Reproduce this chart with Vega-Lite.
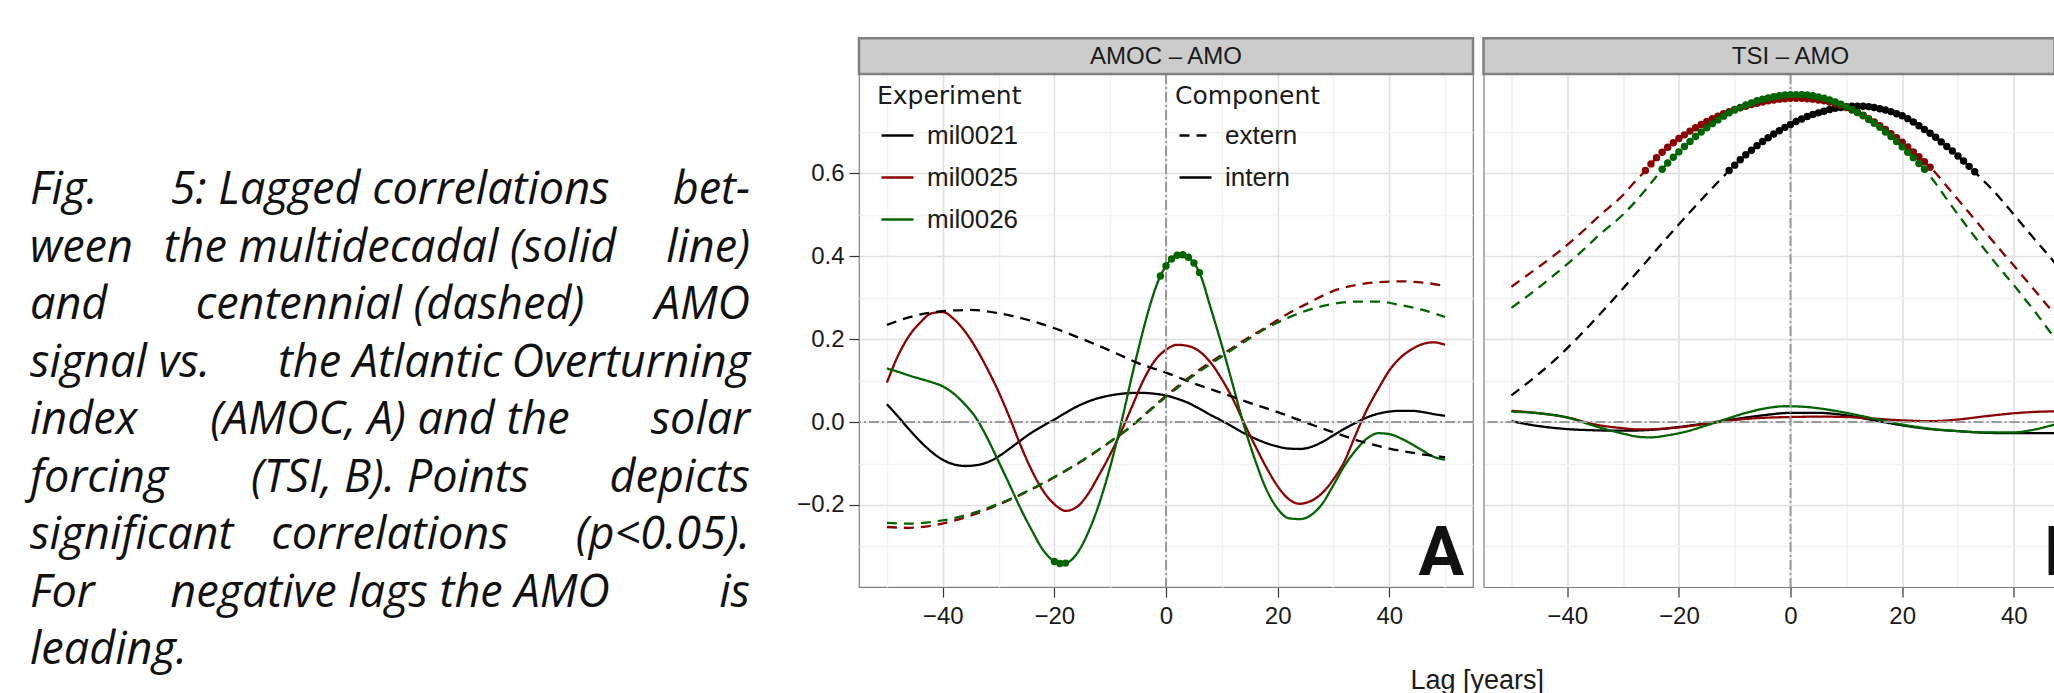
{
"$schema":"https://vega.github.io/schema/vega-lite/v6.json",
"background":"white",
"padding":{"left":30,"top":36,"right":0,"bottom":0},
"config":{
  "font":"Liberation Sans",
  "view":{"stroke":null},
  "axis":{"labelFont":"Liberation Sans","labelFontSize":24,"labelColor":"#1a1a1a","tickColor":"#333333","tickWidth":1.2,"tickSize":10,"gridWidth":1.6,"labelOverlap":false,"labelFlush":false,"labelBound":false,"domainColor":"#7f7f7f","domainWidth":1.2}
},
"datasets":{"curves":[
{"p":"A","e":"mil0021","c":"intern","lag":-50,"r":0.043},{"p":"A","e":"mil0021","c":"intern","lag":-48,"r":0.013},{"p":"A","e":"mil0021","c":"intern","lag":-46,"r":-0.018},{"p":"A","e":"mil0021","c":"intern","lag":-44,"r":-0.047},{"p":"A","e":"mil0021","c":"intern","lag":-42,"r":-0.072},{"p":"A","e":"mil0021","c":"intern","lag":-40,"r":-0.091},{"p":"A","e":"mil0021","c":"intern","lag":-38,"r":-0.102},{"p":"A","e":"mil0021","c":"intern","lag":-36,"r":-0.106},{"p":"A","e":"mil0021","c":"intern","lag":-34,"r":-0.104},{"p":"A","e":"mil0021","c":"intern","lag":-32,"r":-0.097},{"p":"A","e":"mil0021","c":"intern","lag":-30,"r":-0.083},{"p":"A","e":"mil0021","c":"intern","lag":-28,"r":-0.064},{"p":"A","e":"mil0021","c":"intern","lag":-26,"r":-0.044},{"p":"A","e":"mil0021","c":"intern","lag":-24,"r":-0.025},{"p":"A","e":"mil0021","c":"intern","lag":-22,"r":-0.009},{"p":"A","e":"mil0021","c":"intern","lag":-20,"r":0.006},{"p":"A","e":"mil0021","c":"intern","lag":-18,"r":0.022},{"p":"A","e":"mil0021","c":"intern","lag":-16,"r":0.037},{"p":"A","e":"mil0021","c":"intern","lag":-14,"r":0.049},{"p":"A","e":"mil0021","c":"intern","lag":-12,"r":0.058},{"p":"A","e":"mil0021","c":"intern","lag":-10,"r":0.064},{"p":"A","e":"mil0021","c":"intern","lag":-8,"r":0.068},{"p":"A","e":"mil0021","c":"intern","lag":-6,"r":0.070},{"p":"A","e":"mil0021","c":"intern","lag":-4,"r":0.070},{"p":"A","e":"mil0021","c":"intern","lag":-2,"r":0.068},{"p":"A","e":"mil0021","c":"intern","lag":0,"r":0.064},{"p":"A","e":"mil0021","c":"intern","lag":2,"r":0.056},{"p":"A","e":"mil0021","c":"intern","lag":4,"r":0.046},{"p":"A","e":"mil0021","c":"intern","lag":6,"r":0.032},{"p":"A","e":"mil0021","c":"intern","lag":8,"r":0.017},{"p":"A","e":"mil0021","c":"intern","lag":10,"r":0.003},{"p":"A","e":"mil0021","c":"intern","lag":12,"r":-0.012},{"p":"A","e":"mil0021","c":"intern","lag":14,"r":-0.027},{"p":"A","e":"mil0021","c":"intern","lag":16,"r":-0.040},{"p":"A","e":"mil0021","c":"intern","lag":18,"r":-0.051},{"p":"A","e":"mil0021","c":"intern","lag":20,"r":-0.059},{"p":"A","e":"mil0021","c":"intern","lag":22,"r":-0.064},{"p":"A","e":"mil0021","c":"intern","lag":24,"r":-0.065},{"p":"A","e":"mil0021","c":"intern","lag":26,"r":-0.060},{"p":"A","e":"mil0021","c":"intern","lag":28,"r":-0.048},{"p":"A","e":"mil0021","c":"intern","lag":30,"r":-0.032},{"p":"A","e":"mil0021","c":"intern","lag":32,"r":-0.016},{"p":"A","e":"mil0021","c":"intern","lag":34,"r":-0.002},{"p":"A","e":"mil0021","c":"intern","lag":36,"r":0.011},{"p":"A","e":"mil0021","c":"intern","lag":38,"r":0.020},{"p":"A","e":"mil0021","c":"intern","lag":40,"r":0.025},{"p":"A","e":"mil0021","c":"intern","lag":42,"r":0.027},{"p":"A","e":"mil0021","c":"intern","lag":44,"r":0.027},{"p":"A","e":"mil0021","c":"intern","lag":46,"r":0.024},{"p":"A","e":"mil0021","c":"intern","lag":48,"r":0.019},{"p":"A","e":"mil0021","c":"intern","lag":50,"r":0.015},
{"p":"A","e":"mil0025","c":"intern","lag":-50,"r":0.095},{"p":"A","e":"mil0025","c":"intern","lag":-48,"r":0.160},{"p":"A","e":"mil0025","c":"intern","lag":-46,"r":0.208},{"p":"A","e":"mil0025","c":"intern","lag":-44,"r":0.240},{"p":"A","e":"mil0025","c":"intern","lag":-42,"r":0.262},{"p":"A","e":"mil0025","c":"intern","lag":-40,"r":0.265},{"p":"A","e":"mil0025","c":"intern","lag":-38,"r":0.248},{"p":"A","e":"mil0025","c":"intern","lag":-36,"r":0.218},{"p":"A","e":"mil0025","c":"intern","lag":-34,"r":0.177},{"p":"A","e":"mil0025","c":"intern","lag":-32,"r":0.128},{"p":"A","e":"mil0025","c":"intern","lag":-30,"r":0.073},{"p":"A","e":"mil0025","c":"intern","lag":-28,"r":0.010},{"p":"A","e":"mil0025","c":"intern","lag":-26,"r":-0.058},{"p":"A","e":"mil0025","c":"intern","lag":-24,"r":-0.118},{"p":"A","e":"mil0025","c":"intern","lag":-22,"r":-0.166},{"p":"A","e":"mil0025","c":"intern","lag":-20,"r":-0.198},{"p":"A","e":"mil0025","c":"intern","lag":-18,"r":-0.214},{"p":"A","e":"mil0025","c":"intern","lag":-16,"r":-0.205},{"p":"A","e":"mil0025","c":"intern","lag":-14,"r":-0.174},{"p":"A","e":"mil0025","c":"intern","lag":-12,"r":-0.128},{"p":"A","e":"mil0025","c":"intern","lag":-10,"r":-0.078},{"p":"A","e":"mil0025","c":"intern","lag":-8,"r":-0.022},{"p":"A","e":"mil0025","c":"intern","lag":-6,"r":0.040},{"p":"A","e":"mil0025","c":"intern","lag":-4,"r":0.102},{"p":"A","e":"mil0025","c":"intern","lag":-2,"r":0.148},{"p":"A","e":"mil0025","c":"intern","lag":0,"r":0.174},{"p":"A","e":"mil0025","c":"intern","lag":2,"r":0.186},{"p":"A","e":"mil0025","c":"intern","lag":4,"r":0.183},{"p":"A","e":"mil0025","c":"intern","lag":6,"r":0.170},{"p":"A","e":"mil0025","c":"intern","lag":8,"r":0.143},{"p":"A","e":"mil0025","c":"intern","lag":10,"r":0.103},{"p":"A","e":"mil0025","c":"intern","lag":12,"r":0.055},{"p":"A","e":"mil0025","c":"intern","lag":14,"r":-0.003},{"p":"A","e":"mil0025","c":"intern","lag":16,"r":-0.058},{"p":"A","e":"mil0025","c":"intern","lag":18,"r":-0.110},{"p":"A","e":"mil0025","c":"intern","lag":20,"r":-0.155},{"p":"A","e":"mil0025","c":"intern","lag":22,"r":-0.186},{"p":"A","e":"mil0025","c":"intern","lag":24,"r":-0.197},{"p":"A","e":"mil0025","c":"intern","lag":26,"r":-0.190},{"p":"A","e":"mil0025","c":"intern","lag":28,"r":-0.171},{"p":"A","e":"mil0025","c":"intern","lag":30,"r":-0.138},{"p":"A","e":"mil0025","c":"intern","lag":32,"r":-0.094},{"p":"A","e":"mil0025","c":"intern","lag":34,"r":-0.030},{"p":"A","e":"mil0025","c":"intern","lag":36,"r":0.030},{"p":"A","e":"mil0025","c":"intern","lag":38,"r":0.079},{"p":"A","e":"mil0025","c":"intern","lag":40,"r":0.124},{"p":"A","e":"mil0025","c":"intern","lag":42,"r":0.155},{"p":"A","e":"mil0025","c":"intern","lag":44,"r":0.175},{"p":"A","e":"mil0025","c":"intern","lag":46,"r":0.188},{"p":"A","e":"mil0025","c":"intern","lag":48,"r":0.192},{"p":"A","e":"mil0025","c":"intern","lag":50,"r":0.186},
{"p":"A","e":"mil0026","c":"intern","lag":-50,"r":0.129},{"p":"A","e":"mil0026","c":"intern","lag":-48,"r":0.121},{"p":"A","e":"mil0026","c":"intern","lag":-46,"r":0.112},{"p":"A","e":"mil0026","c":"intern","lag":-44,"r":0.104},{"p":"A","e":"mil0026","c":"intern","lag":-42,"r":0.096},{"p":"A","e":"mil0026","c":"intern","lag":-40,"r":0.086},{"p":"A","e":"mil0026","c":"intern","lag":-38,"r":0.068},{"p":"A","e":"mil0026","c":"intern","lag":-36,"r":0.042},{"p":"A","e":"mil0026","c":"intern","lag":-34,"r":0.009},{"p":"A","e":"mil0026","c":"intern","lag":-32,"r":-0.039},{"p":"A","e":"mil0026","c":"intern","lag":-30,"r":-0.095},{"p":"A","e":"mil0026","c":"intern","lag":-28,"r":-0.152},{"p":"A","e":"mil0026","c":"intern","lag":-26,"r":-0.210},{"p":"A","e":"mil0026","c":"intern","lag":-24,"r":-0.262},{"p":"A","e":"mil0026","c":"intern","lag":-22,"r":-0.309},{"p":"A","e":"mil0026","c":"intern","lag":-21,"r":-0.325},{"p":"A","e":"mil0026","c":"intern","lag":-20,"r":-0.336,"sig":1},{"p":"A","e":"mil0026","c":"intern","lag":-19,"r":-0.341,"sig":1},{"p":"A","e":"mil0026","c":"intern","lag":-18,"r":-0.340,"sig":1},{"p":"A","e":"mil0026","c":"intern","lag":-17,"r":-0.333},{"p":"A","e":"mil0026","c":"intern","lag":-16,"r":-0.318},{"p":"A","e":"mil0026","c":"intern","lag":-14,"r":-0.268},{"p":"A","e":"mil0026","c":"intern","lag":-12,"r":-0.198},{"p":"A","e":"mil0026","c":"intern","lag":-10,"r":-0.108},{"p":"A","e":"mil0026","c":"intern","lag":-8,"r":-0.001},{"p":"A","e":"mil0026","c":"intern","lag":-6,"r":0.117},{"p":"A","e":"mil0026","c":"intern","lag":-4,"r":0.226},{"p":"A","e":"mil0026","c":"intern","lag":-3,"r":0.275},{"p":"A","e":"mil0026","c":"intern","lag":-2,"r":0.318},{"p":"A","e":"mil0026","c":"intern","lag":-1,"r":0.352,"sig":1},{"p":"A","e":"mil0026","c":"intern","lag":0,"r":0.376,"sig":1},{"p":"A","e":"mil0026","c":"intern","lag":1,"r":0.393,"sig":1},{"p":"A","e":"mil0026","c":"intern","lag":2,"r":0.402,"sig":1},{"p":"A","e":"mil0026","c":"intern","lag":3,"r":0.403,"sig":1},{"p":"A","e":"mil0026","c":"intern","lag":4,"r":0.397,"sig":1},{"p":"A","e":"mil0026","c":"intern","lag":5,"r":0.383,"sig":1},{"p":"A","e":"mil0026","c":"intern","lag":6,"r":0.360,"sig":1},{"p":"A","e":"mil0026","c":"intern","lag":8,"r":0.275},{"p":"A","e":"mil0026","c":"intern","lag":10,"r":0.185},{"p":"A","e":"mil0026","c":"intern","lag":12,"r":0.088},{"p":"A","e":"mil0026","c":"intern","lag":14,"r":-0.010},{"p":"A","e":"mil0026","c":"intern","lag":16,"r":-0.093},{"p":"A","e":"mil0026","c":"intern","lag":18,"r":-0.163},{"p":"A","e":"mil0026","c":"intern","lag":20,"r":-0.209},{"p":"A","e":"mil0026","c":"intern","lag":22,"r":-0.232},{"p":"A","e":"mil0026","c":"intern","lag":24,"r":-0.234},{"p":"A","e":"mil0026","c":"intern","lag":26,"r":-0.224},{"p":"A","e":"mil0026","c":"intern","lag":28,"r":-0.197},{"p":"A","e":"mil0026","c":"intern","lag":30,"r":-0.152},{"p":"A","e":"mil0026","c":"intern","lag":32,"r":-0.105},{"p":"A","e":"mil0026","c":"intern","lag":34,"r":-0.068},{"p":"A","e":"mil0026","c":"intern","lag":36,"r":-0.040},{"p":"A","e":"mil0026","c":"intern","lag":38,"r":-0.027},{"p":"A","e":"mil0026","c":"intern","lag":40,"r":-0.029},{"p":"A","e":"mil0026","c":"intern","lag":42,"r":-0.039},{"p":"A","e":"mil0026","c":"intern","lag":44,"r":-0.053},{"p":"A","e":"mil0026","c":"intern","lag":46,"r":-0.069},{"p":"A","e":"mil0026","c":"intern","lag":48,"r":-0.084},{"p":"A","e":"mil0026","c":"intern","lag":50,"r":-0.091},
{"p":"A","e":"mil0021","c":"extern","lag":-50,"r":0.234},{"p":"A","e":"mil0021","c":"extern","lag":-45,"r":0.256},{"p":"A","e":"mil0021","c":"extern","lag":-40,"r":0.267},{"p":"A","e":"mil0021","c":"extern","lag":-35,"r":0.270},{"p":"A","e":"mil0021","c":"extern","lag":-30,"r":0.262},{"p":"A","e":"mil0021","c":"extern","lag":-25,"r":0.247},{"p":"A","e":"mil0021","c":"extern","lag":-20,"r":0.226},{"p":"A","e":"mil0021","c":"extern","lag":-15,"r":0.200},{"p":"A","e":"mil0021","c":"extern","lag":-10,"r":0.172},{"p":"A","e":"mil0021","c":"extern","lag":-5,"r":0.142},{"p":"A","e":"mil0021","c":"extern","lag":0,"r":0.119},{"p":"A","e":"mil0021","c":"extern","lag":5,"r":0.093},{"p":"A","e":"mil0021","c":"extern","lag":10,"r":0.070},{"p":"A","e":"mil0021","c":"extern","lag":15,"r":0.046},{"p":"A","e":"mil0021","c":"extern","lag":20,"r":0.024},{"p":"A","e":"mil0021","c":"extern","lag":25,"r":-0.001},{"p":"A","e":"mil0021","c":"extern","lag":30,"r":-0.025},{"p":"A","e":"mil0021","c":"extern","lag":35,"r":-0.047},{"p":"A","e":"mil0021","c":"extern","lag":40,"r":-0.064},{"p":"A","e":"mil0021","c":"extern","lag":45,"r":-0.076},{"p":"A","e":"mil0021","c":"extern","lag":50,"r":-0.085},
{"p":"A","e":"mil0025","c":"extern","lag":-50,"r":-0.253},{"p":"A","e":"mil0025","c":"extern","lag":-46,"r":-0.255},{"p":"A","e":"mil0025","c":"extern","lag":-42,"r":-0.250},{"p":"A","e":"mil0025","c":"extern","lag":-38,"r":-0.238},{"p":"A","e":"mil0025","c":"extern","lag":-34,"r":-0.221},{"p":"A","e":"mil0025","c":"extern","lag":-30,"r":-0.199},{"p":"A","e":"mil0025","c":"extern","lag":-26,"r":-0.175},{"p":"A","e":"mil0025","c":"extern","lag":-22,"r":-0.148},{"p":"A","e":"mil0025","c":"extern","lag":-18,"r":-0.118},{"p":"A","e":"mil0025","c":"extern","lag":-14,"r":-0.085},{"p":"A","e":"mil0025","c":"extern","lag":-10,"r":-0.048},{"p":"A","e":"mil0025","c":"extern","lag":-6,"r":-0.008},{"p":"A","e":"mil0025","c":"extern","lag":-2,"r":0.040},{"p":"A","e":"mil0025","c":"extern","lag":2,"r":0.085},{"p":"A","e":"mil0025","c":"extern","lag":6,"r":0.126},{"p":"A","e":"mil0025","c":"extern","lag":10,"r":0.162},{"p":"A","e":"mil0025","c":"extern","lag":14,"r":0.197},{"p":"A","e":"mil0025","c":"extern","lag":18,"r":0.229},{"p":"A","e":"mil0025","c":"extern","lag":22,"r":0.262},{"p":"A","e":"mil0025","c":"extern","lag":26,"r":0.290},{"p":"A","e":"mil0025","c":"extern","lag":30,"r":0.316},{"p":"A","e":"mil0025","c":"extern","lag":34,"r":0.330},{"p":"A","e":"mil0025","c":"extern","lag":38,"r":0.337},{"p":"A","e":"mil0025","c":"extern","lag":42,"r":0.339},{"p":"A","e":"mil0025","c":"extern","lag":46,"r":0.336},{"p":"A","e":"mil0025","c":"extern","lag":50,"r":0.328},
{"p":"A","e":"mil0026","c":"extern","lag":-50,"r":-0.243},{"p":"A","e":"mil0026","c":"extern","lag":-46,"r":-0.245},{"p":"A","e":"mil0026","c":"extern","lag":-42,"r":-0.241},{"p":"A","e":"mil0026","c":"extern","lag":-38,"r":-0.232},{"p":"A","e":"mil0026","c":"extern","lag":-34,"r":-0.217},{"p":"A","e":"mil0026","c":"extern","lag":-30,"r":-0.197},{"p":"A","e":"mil0026","c":"extern","lag":-26,"r":-0.174},{"p":"A","e":"mil0026","c":"extern","lag":-22,"r":-0.147},{"p":"A","e":"mil0026","c":"extern","lag":-18,"r":-0.117},{"p":"A","e":"mil0026","c":"extern","lag":-14,"r":-0.084},{"p":"A","e":"mil0026","c":"extern","lag":-10,"r":-0.047},{"p":"A","e":"mil0026","c":"extern","lag":-6,"r":-0.008},{"p":"A","e":"mil0026","c":"extern","lag":-2,"r":0.038},{"p":"A","e":"mil0026","c":"extern","lag":2,"r":0.082},{"p":"A","e":"mil0026","c":"extern","lag":6,"r":0.122},{"p":"A","e":"mil0026","c":"extern","lag":10,"r":0.158},{"p":"A","e":"mil0026","c":"extern","lag":14,"r":0.193},{"p":"A","e":"mil0026","c":"extern","lag":18,"r":0.226},{"p":"A","e":"mil0026","c":"extern","lag":22,"r":0.252},{"p":"A","e":"mil0026","c":"extern","lag":26,"r":0.272},{"p":"A","e":"mil0026","c":"extern","lag":30,"r":0.285},{"p":"A","e":"mil0026","c":"extern","lag":34,"r":0.290},{"p":"A","e":"mil0026","c":"extern","lag":38,"r":0.290},{"p":"A","e":"mil0026","c":"extern","lag":42,"r":0.282},{"p":"A","e":"mil0026","c":"extern","lag":46,"r":0.270},{"p":"A","e":"mil0026","c":"extern","lag":50,"r":0.253},
{"p":"B","e":"mil0021","c":"extern","lag":-50,"r":0.064},{"p":"B","e":"mil0021","c":"extern","lag":-46,"r":0.106},{"p":"B","e":"mil0021","c":"extern","lag":-42,"r":0.152},{"p":"B","e":"mil0021","c":"extern","lag":-38,"r":0.205},{"p":"B","e":"mil0021","c":"extern","lag":-34,"r":0.262},{"p":"B","e":"mil0021","c":"extern","lag":-30,"r":0.322},{"p":"B","e":"mil0021","c":"extern","lag":-26,"r":0.384},{"p":"B","e":"mil0021","c":"extern","lag":-22,"r":0.446},{"p":"B","e":"mil0021","c":"extern","lag":-18,"r":0.506},{"p":"B","e":"mil0021","c":"extern","lag":-14,"r":0.564},{"p":"B","e":"mil0021","c":"extern","lag":-12,"r":0.592},
{"p":"B","e":"mil0021","c":"extern","lag":-11,"r":0.606,"sig":1},{"p":"B","e":"mil0021","c":"extern","lag":-10,"r":0.619,"sig":1},{"p":"B","e":"mil0021","c":"extern","lag":-9,"r":0.632,"sig":1},{"p":"B","e":"mil0021","c":"extern","lag":-8,"r":0.644,"sig":1},{"p":"B","e":"mil0021","c":"extern","lag":-7,"r":0.655,"sig":1},{"p":"B","e":"mil0021","c":"extern","lag":-6,"r":0.666,"sig":1},{"p":"B","e":"mil0021","c":"extern","lag":-5,"r":0.676,"sig":1},{"p":"B","e":"mil0021","c":"extern","lag":-4,"r":0.685,"sig":1},{"p":"B","e":"mil0021","c":"extern","lag":-3,"r":0.694,"sig":1},{"p":"B","e":"mil0021","c":"extern","lag":-2,"r":0.702,"sig":1},{"p":"B","e":"mil0021","c":"extern","lag":-1,"r":0.710,"sig":1},{"p":"B","e":"mil0021","c":"extern","lag":0,"r":0.717,"sig":1},{"p":"B","e":"mil0021","c":"extern","lag":1,"r":0.724,"sig":1},{"p":"B","e":"mil0021","c":"extern","lag":2,"r":0.730,"sig":1},{"p":"B","e":"mil0021","c":"extern","lag":3,"r":0.736,"sig":1},{"p":"B","e":"mil0021","c":"extern","lag":4,"r":0.741,"sig":1},{"p":"B","e":"mil0021","c":"extern","lag":5,"r":0.745,"sig":1},{"p":"B","e":"mil0021","c":"extern","lag":6,"r":0.749,"sig":1},{"p":"B","e":"mil0021","c":"extern","lag":7,"r":0.753,"sig":1},{"p":"B","e":"mil0021","c":"extern","lag":8,"r":0.756,"sig":1},{"p":"B","e":"mil0021","c":"extern","lag":9,"r":0.758,"sig":1},{"p":"B","e":"mil0021","c":"extern","lag":10,"r":0.760,"sig":1},{"p":"B","e":"mil0021","c":"extern","lag":11,"r":0.761,"sig":1},{"p":"B","e":"mil0021","c":"extern","lag":12,"r":0.761,"sig":1},{"p":"B","e":"mil0021","c":"extern","lag":13,"r":0.761,"sig":1},{"p":"B","e":"mil0021","c":"extern","lag":14,"r":0.760,"sig":1},{"p":"B","e":"mil0021","c":"extern","lag":15,"r":0.758,"sig":1},{"p":"B","e":"mil0021","c":"extern","lag":16,"r":0.755,"sig":1},{"p":"B","e":"mil0021","c":"extern","lag":17,"r":0.752,"sig":1},{"p":"B","e":"mil0021","c":"extern","lag":18,"r":0.748,"sig":1},{"p":"B","e":"mil0021","c":"extern","lag":19,"r":0.743,"sig":1},{"p":"B","e":"mil0021","c":"extern","lag":20,"r":0.738,"sig":1},{"p":"B","e":"mil0021","c":"extern","lag":21,"r":0.731,"sig":1},{"p":"B","e":"mil0021","c":"extern","lag":22,"r":0.723,"sig":1},{"p":"B","e":"mil0021","c":"extern","lag":23,"r":0.714,"sig":1},{"p":"B","e":"mil0021","c":"extern","lag":24,"r":0.705,"sig":1},{"p":"B","e":"mil0021","c":"extern","lag":25,"r":0.696,"sig":1},{"p":"B","e":"mil0021","c":"extern","lag":26,"r":0.686,"sig":1},{"p":"B","e":"mil0021","c":"extern","lag":27,"r":0.675,"sig":1},{"p":"B","e":"mil0021","c":"extern","lag":28,"r":0.664,"sig":1},{"p":"B","e":"mil0021","c":"extern","lag":29,"r":0.653,"sig":1},{"p":"B","e":"mil0021","c":"extern","lag":30,"r":0.641,"sig":1},{"p":"B","e":"mil0021","c":"extern","lag":31,"r":0.629,"sig":1},{"p":"B","e":"mil0021","c":"extern","lag":32,"r":0.616,"sig":1},{"p":"B","e":"mil0021","c":"extern","lag":33,"r":0.603,"sig":1},
{"p":"B","e":"mil0021","c":"extern","lag":34,"r":0.589},{"p":"B","e":"mil0021","c":"extern","lag":36,"r":0.562},{"p":"B","e":"mil0021","c":"extern","lag":38,"r":0.532},{"p":"B","e":"mil0021","c":"extern","lag":40,"r":0.500},{"p":"B","e":"mil0021","c":"extern","lag":42,"r":0.468},{"p":"B","e":"mil0021","c":"extern","lag":44,"r":0.436},{"p":"B","e":"mil0021","c":"extern","lag":46,"r":0.405},{"p":"B","e":"mil0021","c":"extern","lag":48,"r":0.373},{"p":"B","e":"mil0021","c":"extern","lag":50,"r":0.340},
{"p":"B","e":"mil0025","c":"extern","lag":-50,"r":0.326},{"p":"B","e":"mil0025","c":"extern","lag":-46,"r":0.365},{"p":"B","e":"mil0025","c":"extern","lag":-42,"r":0.405},{"p":"B","e":"mil0025","c":"extern","lag":-38,"r":0.450},{"p":"B","e":"mil0025","c":"extern","lag":-34,"r":0.500},{"p":"B","e":"mil0025","c":"extern","lag":-30,"r":0.547},{"p":"B","e":"mil0025","c":"extern","lag":-28,"r":0.577},{"p":"B","e":"mil0025","c":"extern","lag":-27,"r":0.591},
{"p":"B","e":"mil0025","c":"extern","lag":-26,"r":0.606,"sig":1},{"p":"B","e":"mil0025","c":"extern","lag":-25,"r":0.622,"sig":1},{"p":"B","e":"mil0025","c":"extern","lag":-24,"r":0.637,"sig":1},{"p":"B","e":"mil0025","c":"extern","lag":-23,"r":0.650,"sig":1},{"p":"B","e":"mil0025","c":"extern","lag":-22,"r":0.662,"sig":1},{"p":"B","e":"mil0025","c":"extern","lag":-21,"r":0.673,"sig":1},{"p":"B","e":"mil0025","c":"extern","lag":-20,"r":0.683,"sig":1},{"p":"B","e":"mil0025","c":"extern","lag":-19,"r":0.692,"sig":1},{"p":"B","e":"mil0025","c":"extern","lag":-18,"r":0.701,"sig":1},{"p":"B","e":"mil0025","c":"extern","lag":-17,"r":0.709,"sig":1},{"p":"B","e":"mil0025","c":"extern","lag":-16,"r":0.717,"sig":1},{"p":"B","e":"mil0025","c":"extern","lag":-15,"r":0.724,"sig":1},{"p":"B","e":"mil0025","c":"extern","lag":-14,"r":0.731,"sig":1},{"p":"B","e":"mil0025","c":"extern","lag":-13,"r":0.737,"sig":1},{"p":"B","e":"mil0025","c":"extern","lag":-12,"r":0.743,"sig":1},{"p":"B","e":"mil0025","c":"extern","lag":-11,"r":0.748,"sig":1},{"p":"B","e":"mil0025","c":"extern","lag":-10,"r":0.753,"sig":1},{"p":"B","e":"mil0025","c":"extern","lag":-9,"r":0.757,"sig":1},{"p":"B","e":"mil0025","c":"extern","lag":-8,"r":0.761,"sig":1},{"p":"B","e":"mil0025","c":"extern","lag":-7,"r":0.765,"sig":1},{"p":"B","e":"mil0025","c":"extern","lag":-6,"r":0.768,"sig":1},{"p":"B","e":"mil0025","c":"extern","lag":-5,"r":0.771,"sig":1},{"p":"B","e":"mil0025","c":"extern","lag":-4,"r":0.774,"sig":1},{"p":"B","e":"mil0025","c":"extern","lag":-3,"r":0.776,"sig":1},{"p":"B","e":"mil0025","c":"extern","lag":-2,"r":0.778,"sig":1},{"p":"B","e":"mil0025","c":"extern","lag":-1,"r":0.779,"sig":1},{"p":"B","e":"mil0025","c":"extern","lag":0,"r":0.780,"sig":1},{"p":"B","e":"mil0025","c":"extern","lag":1,"r":0.780,"sig":1},{"p":"B","e":"mil0025","c":"extern","lag":2,"r":0.780,"sig":1},{"p":"B","e":"mil0025","c":"extern","lag":3,"r":0.779,"sig":1},{"p":"B","e":"mil0025","c":"extern","lag":4,"r":0.778,"sig":1},{"p":"B","e":"mil0025","c":"extern","lag":5,"r":0.776,"sig":1},{"p":"B","e":"mil0025","c":"extern","lag":6,"r":0.774,"sig":1},{"p":"B","e":"mil0025","c":"extern","lag":7,"r":0.771,"sig":1},{"p":"B","e":"mil0025","c":"extern","lag":8,"r":0.767,"sig":1},{"p":"B","e":"mil0025","c":"extern","lag":9,"r":0.763,"sig":1},{"p":"B","e":"mil0025","c":"extern","lag":10,"r":0.758,"sig":1},{"p":"B","e":"mil0025","c":"extern","lag":11,"r":0.752,"sig":1},{"p":"B","e":"mil0025","c":"extern","lag":12,"r":0.746,"sig":1},{"p":"B","e":"mil0025","c":"extern","lag":13,"r":0.739,"sig":1},{"p":"B","e":"mil0025","c":"extern","lag":14,"r":0.731,"sig":1},{"p":"B","e":"mil0025","c":"extern","lag":15,"r":0.723,"sig":1},{"p":"B","e":"mil0025","c":"extern","lag":16,"r":0.714,"sig":1},{"p":"B","e":"mil0025","c":"extern","lag":17,"r":0.705,"sig":1},{"p":"B","e":"mil0025","c":"extern","lag":18,"r":0.695,"sig":1},{"p":"B","e":"mil0025","c":"extern","lag":19,"r":0.685,"sig":1},{"p":"B","e":"mil0025","c":"extern","lag":20,"r":0.674,"sig":1},{"p":"B","e":"mil0025","c":"extern","lag":21,"r":0.663,"sig":1},{"p":"B","e":"mil0025","c":"extern","lag":22,"r":0.651,"sig":1},{"p":"B","e":"mil0025","c":"extern","lag":23,"r":0.639,"sig":1},{"p":"B","e":"mil0025","c":"extern","lag":24,"r":0.627,"sig":1},{"p":"B","e":"mil0025","c":"extern","lag":25,"r":0.614,"sig":1},
{"p":"B","e":"mil0025","c":"extern","lag":26,"r":0.600},{"p":"B","e":"mil0025","c":"extern","lag":28,"r":0.568},{"p":"B","e":"mil0025","c":"extern","lag":30,"r":0.536},{"p":"B","e":"mil0025","c":"extern","lag":32,"r":0.504},{"p":"B","e":"mil0025","c":"extern","lag":34,"r":0.472},{"p":"B","e":"mil0025","c":"extern","lag":36,"r":0.440},{"p":"B","e":"mil0025","c":"extern","lag":38,"r":0.408},{"p":"B","e":"mil0025","c":"extern","lag":40,"r":0.377},{"p":"B","e":"mil0025","c":"extern","lag":42,"r":0.345},{"p":"B","e":"mil0025","c":"extern","lag":44,"r":0.313},{"p":"B","e":"mil0025","c":"extern","lag":46,"r":0.281},{"p":"B","e":"mil0025","c":"extern","lag":48,"r":0.250},{"p":"B","e":"mil0025","c":"extern","lag":50,"r":0.218},
{"p":"B","e":"mil0026","c":"extern","lag":-50,"r":0.275},{"p":"B","e":"mil0026","c":"extern","lag":-46,"r":0.315},{"p":"B","e":"mil0026","c":"extern","lag":-42,"r":0.358},{"p":"B","e":"mil0026","c":"extern","lag":-38,"r":0.404},{"p":"B","e":"mil0026","c":"extern","lag":-34,"r":0.454},{"p":"B","e":"mil0026","c":"extern","lag":-30,"r":0.500},{"p":"B","e":"mil0026","c":"extern","lag":-28,"r":0.528},{"p":"B","e":"mil0026","c":"extern","lag":-26,"r":0.559},{"p":"B","e":"mil0026","c":"extern","lag":-25,"r":0.576},{"p":"B","e":"mil0026","c":"extern","lag":-24,"r":0.592},
{"p":"B","e":"mil0026","c":"extern","lag":-23,"r":0.609,"sig":1},{"p":"B","e":"mil0026","c":"extern","lag":-22,"r":0.624,"sig":1},{"p":"B","e":"mil0026","c":"extern","lag":-21,"r":0.638,"sig":1},{"p":"B","e":"mil0026","c":"extern","lag":-20,"r":0.651,"sig":1},{"p":"B","e":"mil0026","c":"extern","lag":-19,"r":0.664,"sig":1},{"p":"B","e":"mil0026","c":"extern","lag":-18,"r":0.676,"sig":1},{"p":"B","e":"mil0026","c":"extern","lag":-17,"r":0.688,"sig":1},{"p":"B","e":"mil0026","c":"extern","lag":-16,"r":0.699,"sig":1},{"p":"B","e":"mil0026","c":"extern","lag":-15,"r":0.709,"sig":1},{"p":"B","e":"mil0026","c":"extern","lag":-14,"r":0.719,"sig":1},{"p":"B","e":"mil0026","c":"extern","lag":-13,"r":0.728,"sig":1},{"p":"B","e":"mil0026","c":"extern","lag":-12,"r":0.737,"sig":1},{"p":"B","e":"mil0026","c":"extern","lag":-11,"r":0.745,"sig":1},{"p":"B","e":"mil0026","c":"extern","lag":-10,"r":0.752,"sig":1},{"p":"B","e":"mil0026","c":"extern","lag":-9,"r":0.758,"sig":1},{"p":"B","e":"mil0026","c":"extern","lag":-8,"r":0.764,"sig":1},{"p":"B","e":"mil0026","c":"extern","lag":-7,"r":0.769,"sig":1},{"p":"B","e":"mil0026","c":"extern","lag":-6,"r":0.774,"sig":1},{"p":"B","e":"mil0026","c":"extern","lag":-5,"r":0.778,"sig":1},{"p":"B","e":"mil0026","c":"extern","lag":-4,"r":0.781,"sig":1},{"p":"B","e":"mil0026","c":"extern","lag":-3,"r":0.784,"sig":1},{"p":"B","e":"mil0026","c":"extern","lag":-2,"r":0.786,"sig":1},{"p":"B","e":"mil0026","c":"extern","lag":-1,"r":0.788,"sig":1},{"p":"B","e":"mil0026","c":"extern","lag":0,"r":0.789,"sig":1},{"p":"B","e":"mil0026","c":"extern","lag":1,"r":0.789,"sig":1},{"p":"B","e":"mil0026","c":"extern","lag":2,"r":0.789,"sig":1},{"p":"B","e":"mil0026","c":"extern","lag":3,"r":0.788,"sig":1},{"p":"B","e":"mil0026","c":"extern","lag":4,"r":0.786,"sig":1},{"p":"B","e":"mil0026","c":"extern","lag":5,"r":0.783,"sig":1},{"p":"B","e":"mil0026","c":"extern","lag":6,"r":0.780,"sig":1},{"p":"B","e":"mil0026","c":"extern","lag":7,"r":0.776,"sig":1},{"p":"B","e":"mil0026","c":"extern","lag":8,"r":0.771,"sig":1},{"p":"B","e":"mil0026","c":"extern","lag":9,"r":0.766,"sig":1},{"p":"B","e":"mil0026","c":"extern","lag":10,"r":0.760,"sig":1},{"p":"B","e":"mil0026","c":"extern","lag":11,"r":0.753,"sig":1},{"p":"B","e":"mil0026","c":"extern","lag":12,"r":0.746,"sig":1},{"p":"B","e":"mil0026","c":"extern","lag":13,"r":0.738,"sig":1},{"p":"B","e":"mil0026","c":"extern","lag":14,"r":0.729,"sig":1},{"p":"B","e":"mil0026","c":"extern","lag":15,"r":0.720,"sig":1},{"p":"B","e":"mil0026","c":"extern","lag":16,"r":0.710,"sig":1},{"p":"B","e":"mil0026","c":"extern","lag":17,"r":0.699,"sig":1},{"p":"B","e":"mil0026","c":"extern","lag":18,"r":0.688,"sig":1},{"p":"B","e":"mil0026","c":"extern","lag":19,"r":0.676,"sig":1},{"p":"B","e":"mil0026","c":"extern","lag":20,"r":0.663,"sig":1},{"p":"B","e":"mil0026","c":"extern","lag":21,"r":0.650,"sig":1},{"p":"B","e":"mil0026","c":"extern","lag":22,"r":0.637,"sig":1},{"p":"B","e":"mil0026","c":"extern","lag":23,"r":0.623,"sig":1},{"p":"B","e":"mil0026","c":"extern","lag":24,"r":0.609,"sig":1},
{"p":"B","e":"mil0026","c":"extern","lag":26,"r":0.575},{"p":"B","e":"mil0026","c":"extern","lag":28,"r":0.537},{"p":"B","e":"mil0026","c":"extern","lag":30,"r":0.500},{"p":"B","e":"mil0026","c":"extern","lag":32,"r":0.464},{"p":"B","e":"mil0026","c":"extern","lag":34,"r":0.429},{"p":"B","e":"mil0026","c":"extern","lag":36,"r":0.395},{"p":"B","e":"mil0026","c":"extern","lag":38,"r":0.362},{"p":"B","e":"mil0026","c":"extern","lag":40,"r":0.330},{"p":"B","e":"mil0026","c":"extern","lag":42,"r":0.296},{"p":"B","e":"mil0026","c":"extern","lag":44,"r":0.262},{"p":"B","e":"mil0026","c":"extern","lag":46,"r":0.226},{"p":"B","e":"mil0026","c":"extern","lag":48,"r":0.190},{"p":"B","e":"mil0026","c":"extern","lag":50,"r":0.154},
{"p":"B","e":"mil0021","c":"intern","lag":-50,"r":0.002},{"p":"B","e":"mil0021","c":"intern","lag":-45,"r":-0.010},{"p":"B","e":"mil0021","c":"intern","lag":-40,"r":-0.017},{"p":"B","e":"mil0021","c":"intern","lag":-35,"r":-0.020},{"p":"B","e":"mil0021","c":"intern","lag":-30,"r":-0.021},{"p":"B","e":"mil0021","c":"intern","lag":-25,"r":-0.019},{"p":"B","e":"mil0021","c":"intern","lag":-20,"r":-0.012},{"p":"B","e":"mil0021","c":"intern","lag":-15,"r":-0.003},{"p":"B","e":"mil0021","c":"intern","lag":-10,"r":0.007},{"p":"B","e":"mil0021","c":"intern","lag":-5,"r":0.016},{"p":"B","e":"mil0021","c":"intern","lag":0,"r":0.022},{"p":"B","e":"mil0021","c":"intern","lag":5,"r":0.022},{"p":"B","e":"mil0021","c":"intern","lag":10,"r":0.016},{"p":"B","e":"mil0021","c":"intern","lag":15,"r":0.004},{"p":"B","e":"mil0021","c":"intern","lag":20,"r":-0.008},{"p":"B","e":"mil0021","c":"intern","lag":25,"r":-0.017},{"p":"B","e":"mil0021","c":"intern","lag":30,"r":-0.022},{"p":"B","e":"mil0021","c":"intern","lag":35,"r":-0.026},{"p":"B","e":"mil0021","c":"intern","lag":40,"r":-0.027},{"p":"B","e":"mil0021","c":"intern","lag":45,"r":-0.027},{"p":"B","e":"mil0021","c":"intern","lag":50,"r":-0.026},
{"p":"B","e":"mil0025","c":"intern","lag":-50,"r":0.027},{"p":"B","e":"mil0025","c":"intern","lag":-45,"r":0.021},{"p":"B","e":"mil0025","c":"intern","lag":-40,"r":0.011},{"p":"B","e":"mil0025","c":"intern","lag":-35,"r":-0.006},{"p":"B","e":"mil0025","c":"intern","lag":-30,"r":-0.015},{"p":"B","e":"mil0025","c":"intern","lag":-27,"r":-0.018},{"p":"B","e":"mil0025","c":"intern","lag":-24,"r":-0.017},{"p":"B","e":"mil0025","c":"intern","lag":-20,"r":-0.013},{"p":"B","e":"mil0025","c":"intern","lag":-15,"r":-0.004},{"p":"B","e":"mil0025","c":"intern","lag":-10,"r":0.005},{"p":"B","e":"mil0025","c":"intern","lag":-5,"r":0.010},{"p":"B","e":"mil0025","c":"intern","lag":0,"r":0.012},{"p":"B","e":"mil0025","c":"intern","lag":5,"r":0.013},{"p":"B","e":"mil0025","c":"intern","lag":10,"r":0.012},{"p":"B","e":"mil0025","c":"intern","lag":15,"r":0.008},{"p":"B","e":"mil0025","c":"intern","lag":20,"r":0.004},{"p":"B","e":"mil0025","c":"intern","lag":25,"r":0.002},{"p":"B","e":"mil0025","c":"intern","lag":30,"r":0.006},{"p":"B","e":"mil0025","c":"intern","lag":35,"r":0.014},{"p":"B","e":"mil0025","c":"intern","lag":40,"r":0.021},{"p":"B","e":"mil0025","c":"intern","lag":45,"r":0.025},{"p":"B","e":"mil0025","c":"intern","lag":50,"r":0.026},
{"p":"B","e":"mil0026","c":"intern","lag":-50,"r":0.025},{"p":"B","e":"mil0026","c":"intern","lag":-45,"r":0.021},{"p":"B","e":"mil0026","c":"intern","lag":-40,"r":0.011},{"p":"B","e":"mil0026","c":"intern","lag":-35,"r":-0.010},{"p":"B","e":"mil0026","c":"intern","lag":-30,"r":-0.028},{"p":"B","e":"mil0026","c":"intern","lag":-27,"r":-0.036},{"p":"B","e":"mil0026","c":"intern","lag":-25,"r":-0.037},{"p":"B","e":"mil0026","c":"intern","lag":-22,"r":-0.032},{"p":"B","e":"mil0026","c":"intern","lag":-19,"r":-0.024},{"p":"B","e":"mil0026","c":"intern","lag":-15,"r":-0.008},{"p":"B","e":"mil0026","c":"intern","lag":-12,"r":0.005},{"p":"B","e":"mil0026","c":"intern","lag":-8,"r":0.022},{"p":"B","e":"mil0026","c":"intern","lag":-4,"r":0.034},{"p":"B","e":"mil0026","c":"intern","lag":-1,"r":0.038},{"p":"B","e":"mil0026","c":"intern","lag":2,"r":0.037},{"p":"B","e":"mil0026","c":"intern","lag":5,"r":0.033},{"p":"B","e":"mil0026","c":"intern","lag":10,"r":0.022},{"p":"B","e":"mil0026","c":"intern","lag":15,"r":0.008},{"p":"B","e":"mil0026","c":"intern","lag":20,"r":-0.006},{"p":"B","e":"mil0026","c":"intern","lag":25,"r":-0.016},{"p":"B","e":"mil0026","c":"intern","lag":30,"r":-0.022},{"p":"B","e":"mil0026","c":"intern","lag":35,"r":-0.025},{"p":"B","e":"mil0026","c":"intern","lag":40,"r":-0.025},{"p":"B","e":"mil0026","c":"intern","lag":43,"r":-0.020},{"p":"B","e":"mil0026","c":"intern","lag":46,"r":-0.011},{"p":"B","e":"mil0026","c":"intern","lag":48,"r":-0.004},{"p":"B","e":"mil0026","c":"intern","lag":50,"r":0.002}
]},
"spacing":46,
"hconcat":[
 {
  "width":720,"height":600,
  "data":{"values":[
   {"line":1,"part":"l","text":"Fig."},{"line":1,"part":"m","text":"5: Lagged correlations"},{"line":1,"part":"r","text":"bet-"},
   {"line":2,"part":"l","text":"ween"},{"line":2,"part":"m","text":"the multidecadal (solid"},{"line":2,"part":"r","text":"line)"},
   {"line":3,"part":"l","text":"and"},{"line":3,"part":"m","text":"centennial (dashed)"},{"line":3,"part":"r","text":"AMO"},
   {"line":4,"part":"l","text":"signal vs."},{"line":4,"part":"m","text":"the Atlantic"},{"line":4,"part":"r","text":"Overturning"},
   {"line":5,"part":"l","text":"index"},{"line":5,"part":"m","text":"(AMOC, A) and the"},{"line":5,"part":"r","text":"solar"},
   {"line":6,"part":"l","text":"forcing"},{"line":6,"part":"m","text":"(TSI, B). Points"},{"line":6,"part":"r","text":"depicts"},
   {"line":7,"part":"l","text":"significant"},{"line":7,"part":"m","text":"correlations"},{"line":7,"part":"r","text":"(p<0.05)."},
   {"line":8,"part":"l","text":"For"},{"line":8,"part":"m","text":"negative lags the AMO"},{"line":8,"part":"r","text":"is"},
   {"line":9,"part":"l","text":"leading."}
  ]},
  "layer":[
   {"transform":[{"filter":"datum.part === 'l'"}],
    "mark":{"type":"text","align":"left","baseline":"alphabetic","font":"Open Sans","fontStyle":"italic","fontWeight":500,"fontSize":45,"color":"#111111"},
    "encoding":{"x":{"datum":0,"type":"quantitative","scale":{"domain":[0,1],"nice":false,"zero":false},"axis":null},
                "y":{"field":"line","type":"quantitative","scale":{"domain":[-1.2609,9.1739],"reverse":true,"nice":false,"zero":false},"axis":null},
                "text":{"field":"text"}}},
   {"transform":[{"filter":"datum.part === 'm'"}],
    "mark":{"type":"text","align":"center","baseline":"alphabetic","font":"Open Sans","fontStyle":"italic","fontWeight":500,"fontSize":45,"color":"#111111"},
    "encoding":{"x":{"datum":0.5,"type":"quantitative","scale":{"domain":[0,1],"nice":false,"zero":false},"axis":null},
                "y":{"field":"line","type":"quantitative","scale":{"domain":[-1.2609,9.1739],"reverse":true,"nice":false,"zero":false},"axis":null},
                "text":{"field":"text"}}},
   {"transform":[{"filter":"datum.part === 'r'"}],
    "mark":{"type":"text","align":"right","baseline":"alphabetic","font":"Open Sans","fontStyle":"italic","fontWeight":500,"fontSize":45,"color":"#111111"},
    "encoding":{"x":{"datum":1,"type":"quantitative","scale":{"domain":[0,1],"nice":false,"zero":false},"axis":null},
                "y":{"field":"line","type":"quantitative","scale":{"domain":[-1.2609,9.1739],"reverse":true,"nice":false,"zero":false},"axis":null},
                "text":{"field":"text"}}}
  ]
 },
 {
  "title":{"text":"Lag [years]","orient":"bottom","anchor":"middle","font":"Liberation Sans","fontSize":27,"fontWeight":"normal","color":"#1a1a1a","offset":39,"dx":51},
  "spacing":6.5,
  "hconcat":[
   {
    "width":614,"height":513,
    "view":{"stroke":"#7f7f7f","strokeWidth":1.2},
    "layer":[
     {"data":{"name":"curves"},"transform":[{"filter":"datum.p === 'A'"}],
      "mark":{"type":"line","strokeWidth":2.3,"interpolate":"monotone"},
      "encoding":{
       "x":{"field":"lag","type":"quantitative","scale":{"domain":[-55,55],"nice":false,"zero":false},
            "axis":{"title":null,"values":[-50,-40,-30,-20,-10,0,10,20,30,40,50],"labelExpr":"datum.value % 20 === 0 ? datum.label : ''","tickOpacity":{"condition":{"test":"datum.value % 20 === 0","value":1},"value":0},"grid":true,"gridColor":{"condition":{"test":"datum.value % 20 === 0","value":"#e0e0e0"},"value":"#f3f3f3"},"domain":false,"labelPadding":7}},
       "y":{"field":"r","type":"quantitative","scale":{"domain":[-0.3976,0.8386],"nice":false,"zero":false},
            "axis":{"title":null,"values":[-0.3,-0.2,-0.1,0,0.1,0.2,0.3,0.4,0.5,0.6,0.7],"format":".1f","labelExpr":"round(datum.value*10) % 2 === 0 ? datum.label : ''","tickOpacity":{"condition":{"test":"round(datum.value*10) % 2 === 0","value":1},"value":0},"grid":true,"gridColor":{"condition":{"test":"round(datum.value*10) % 2 === 0","value":"#e0e0e0"},"value":"#f3f3f3"},"domain":false,"labelPadding":5}},
       "color":{"field":"e","type":"nominal","scale":{"domain":["mil0021","mil0025","mil0026"],"range":["#000000","#8b0000","#006400"]},
            "legend":{"title":"Experiment","orient":"none","legendX":847,"legendY":10,"direction":"vertical","titleFont":"DejaVu Sans","titleFontSize":25,"titleFontWeight":"normal","titleColor":"#1a1a1a","titlePadding":9,"titleAnchor":"start","labelFont":"Liberation Sans","labelFontSize":26,"labelColor":"#1a1a1a","symbolType":"stroke","symbolSize":1024,"symbolStrokeWidth":2.5,"rowPadding":11,"labelOffset":12,"symbolOffset":3,"padding":0}},
       "strokeDash":{"field":"c","type":"nominal","scale":{"domain":["extern","intern"],"range":[[10,7],[1,0]]},
            "legend":{"title":"Component","orient":"none","legendX":1145,"legendY":10,"direction":"vertical","titleFont":"DejaVu Sans","titleFontSize":25,"titleFontWeight":"normal","titleColor":"#1a1a1a","titlePadding":9,"titleAnchor":"start","labelFont":"Liberation Sans","labelFontSize":26,"labelColor":"#1a1a1a","symbolType":"stroke","symbolSize":1024,"symbolStrokeWidth":2.5,"symbolStrokeColor":"#000000","rowPadding":11,"labelOffset":12,"symbolOffset":3,"padding":0}}
      }},
     {"data":{"values":[{}]},"mark":{"type":"rule","color":"#9a9a9a","strokeWidth":2,"strokeDash":[10,3,2,3]},
      "encoding":{"y":{"datum":0,"type":"quantitative","scale":{"domain":[-0.3976,0.8386],"nice":false,"zero":false}}}},
     {"data":{"values":[{}]},"mark":{"type":"rule","color":"#9a9a9a","strokeWidth":2,"strokeDash":[10,3,2,3]},
      "encoding":{"x":{"datum":0,"type":"quantitative","scale":{"domain":[-55,55],"nice":false,"zero":false}}}},
     {"data":{"name":"curves"},"transform":[{"filter":"datum.p === 'A' && datum.sig === 1"}],
      "mark":{"type":"circle","size":55,"opacity":1},
      "encoding":{"x":{"field":"lag","type":"quantitative","scale":{"domain":[-55,55],"nice":false,"zero":false}},
                  "y":{"field":"r","type":"quantitative","scale":{"domain":[-0.3976,0.8386],"nice":false,"zero":false}},
                  "color":{"field":"e","type":"nominal","legend":null}}},
     {"data":{"values":[{"t":"A"}]},"mark":{"type":"text","font":"Roboto","fontWeight":"bold","fontSize":68,"align":"center","baseline":"alphabetic","color":"#111111"},
      "encoding":{"x":{"datum":49.35,"type":"quantitative","scale":{"domain":[-55,55],"nice":false,"zero":false}},"y":{"datum":-0.3687,"type":"quantitative","scale":{"domain":[-0.3976,0.8386],"nice":false,"zero":false}},"text":{"field":"t"}}},
     {"data":{"values":[{"label":"AMOC – AMO"}]},"mark":{"type":"rect","fill":"#cccccc","stroke":"#808080","strokeWidth":2.5},
      "encoding":{"x":{"datum":-55,"type":"quantitative","scale":{"domain":[-55,55],"nice":false,"zero":false}},"x2":{"datum":55},"y":{"datum":0.8386,"type":"quantitative","scale":{"domain":[-0.3976,0.8386],"nice":false,"zero":false}},"y2":{"datum":0.9249}}},
     {"data":{"values":[{"label":"AMOC – AMO"}]},"mark":{"type":"text","font":"Liberation Sans","fontSize":24,"color":"#1a1a1a","align":"center","baseline":"alphabetic"},
      "encoding":{"x":{"datum":0,"type":"quantitative","scale":{"domain":[-55,55],"nice":false,"zero":false}},"y":{"datum":0.862,"type":"quantitative","scale":{"domain":[-0.3976,0.8386],"nice":false,"zero":false}},"text":{"field":"label"}}}
    ]
   },
   {
    "width":572,"height":513,
    "layer":[
     {"data":{"name":"curves"},"transform":[{"filter":"datum.p === 'B'"}],
      "mark":{"type":"line","strokeWidth":2.3,"interpolate":"monotone","clip":true},
      "encoding":{
       "x":{"field":"lag","type":"quantitative","scale":{"domain":[-55,47.47],"nice":false,"zero":false},
            "axis":{"title":null,"values":[-50,-40,-30,-20,-10,0,10,20,30,40],"labelExpr":"datum.value % 20 === 0 ? datum.label : ''","tickOpacity":{"condition":{"test":"datum.value % 20 === 0","value":1},"value":0},"grid":true,"gridColor":{"condition":{"test":"datum.value % 20 === 0","value":"#e0e0e0"},"value":"#f3f3f3"},"domain":true,"labelPadding":7}},
       "y":{"field":"r","type":"quantitative","scale":{"domain":[-0.3976,0.8386],"nice":false,"zero":false},
            "axis":{"title":null,"values":[-0.3,-0.2,-0.1,0,0.1,0.2,0.3,0.4,0.5,0.6,0.7],"labels":false,"ticks":false,"grid":true,"gridColor":{"condition":{"test":"round(datum.value*10) % 2 === 0","value":"#e0e0e0"},"value":"#f3f3f3"},"domain":true}},
       "color":{"field":"e","type":"nominal","scale":{"domain":["mil0021","mil0025","mil0026"],"range":["#000000","#8b0000","#006400"]},"legend":null},
       "strokeDash":{"field":"c","type":"nominal","scale":{"domain":["extern","intern"],"range":[[10,7],[1,0]]},"legend":null}
      }},
     {"data":{"values":[{}]},"mark":{"type":"rule","color":"#9a9a9a","strokeWidth":2,"strokeDash":[10,3,2,3]},
      "encoding":{"y":{"datum":0,"type":"quantitative","scale":{"domain":[-0.3976,0.8386],"nice":false,"zero":false}}}},
     {"data":{"values":[{}]},"mark":{"type":"rule","color":"#9a9a9a","strokeWidth":2,"strokeDash":[10,3,2,3]},
      "encoding":{"x":{"datum":0,"type":"quantitative","scale":{"domain":[-55,47.47],"nice":false,"zero":false}}}},
     {"data":{"name":"curves"},"transform":[{"filter":"datum.p === 'B' && datum.sig === 1"}],
      "mark":{"type":"circle","size":55,"opacity":1,"clip":true},
      "encoding":{"x":{"field":"lag","type":"quantitative","scale":{"domain":[-55,47.47],"nice":false,"zero":false}},
                  "y":{"field":"r","type":"quantitative","scale":{"domain":[-0.3976,0.8386],"nice":false,"zero":false}},
                  "color":{"field":"e","type":"nominal","legend":null}}},
     {"data":{"values":[{"t":"B"}]},"mark":{"type":"text","font":"Roboto","fontWeight":"bold","fontSize":68,"align":"center","baseline":"alphabetic","color":"#111111","clip":true},
      "encoding":{"x":{"datum":49.35,"type":"quantitative","scale":{"domain":[-55,47.47],"nice":false,"zero":false}},"y":{"datum":-0.3687,"type":"quantitative","scale":{"domain":[-0.3976,0.8386],"nice":false,"zero":false}},"text":{"field":"t"}}},
     {"data":{"values":[{"label":"TSI – AMO"}]},"mark":{"type":"rect","fill":"#cccccc","stroke":"#808080","strokeWidth":2.5},
      "encoding":{"x":{"datum":-55,"type":"quantitative","scale":{"domain":[-55,47.47],"nice":false,"zero":false}},"x2":{"datum":47.3},"y":{"datum":0.8386,"type":"quantitative","scale":{"domain":[-0.3976,0.8386],"nice":false,"zero":false}},"y2":{"datum":0.9249}}},
     {"data":{"values":[{"label":"TSI – AMO"}]},"mark":{"type":"text","font":"Liberation Sans","fontSize":24,"color":"#1a1a1a","align":"center","baseline":"alphabetic"},
      "encoding":{"x":{"datum":0,"type":"quantitative","scale":{"domain":[-55,47.47],"nice":false,"zero":false}},"y":{"datum":0.862,"type":"quantitative","scale":{"domain":[-0.3976,0.8386],"nice":false,"zero":false}},"text":{"field":"label"}}}
    ]
   }
  ]
 }
]
}
